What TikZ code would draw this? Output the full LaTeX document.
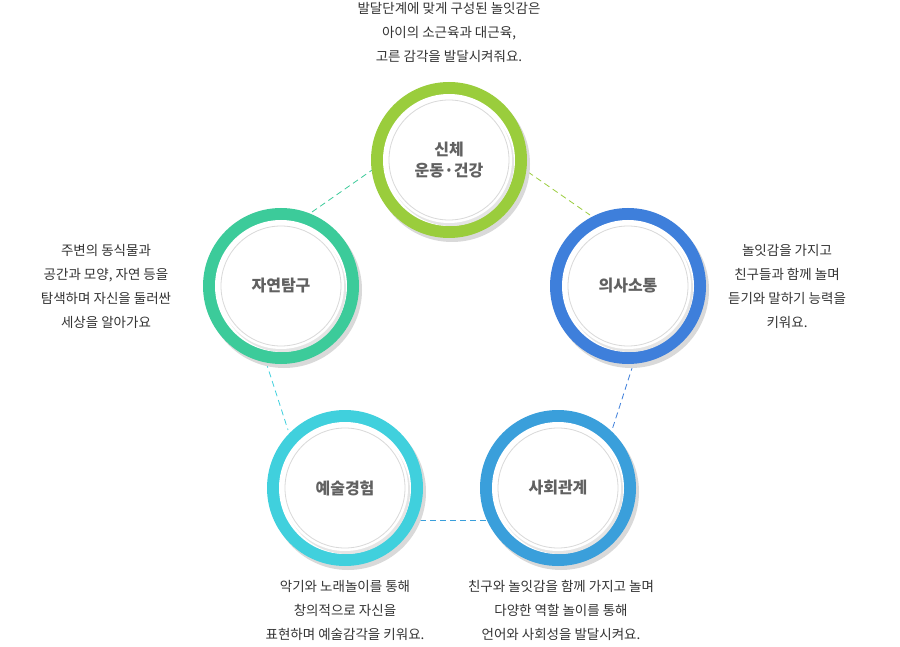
\documentclass[tikz,border=0pt]{standalone}
\usepackage{fontspec}
\setmainfont{Noto Sans CJK KR}
\begin{document}
\begin{tikzpicture}[x=1pt,y=-1pt,
  desc/.style={align=center,text=black!80,font=\fontsize{13.5}{24}\selectfont},
  lbl/.style={align=center,text=black!62,font=\fontsize{16}{21}\selectfont\bfseries},
  conn/.style={dashed,dash pattern=on 6pt off 4pt,line width=0.8pt}]
\useasboundingbox[fill=white] (0,0) rectangle (900,647);
\definecolor{cA}{HTML}{9ACD3C}
\definecolor{cB}{HTML}{3E7FDB}
\definecolor{cC}{HTML}{3CCB9A}
\definecolor{cD}{HTML}{40D0DD}
\definecolor{cE}{HTML}{3A9FDB}
\newcommand\ring[4]{%
  \fill[black!15] (#2)++(3,4) circle[radius=78];
  \fill[#3] (#2) circle[radius=78];
  \fill[white] (#2) circle[radius=66];
  \fill[black!10] (#2)++(2,3) circle[radius=63];
  \fill[white] (#2) circle[radius=63];
  \draw[black!15,line width=0.8pt] (#2) circle[radius=60];
  \node[lbl] (#1) at (#2) {#4};}
\draw[conn,cA] (528,172) -- (590,215);
\draw[conn,cC] (312,212) -- (375,168);
\draw[conn,cD] (266,362) -- (288,430);
\draw[conn,cE] (410,520) -- (487,520);
\draw[conn,cB] (633,365) -- (612,430);
\ring{a}{449,160}{cA}{신체\\운동·건강}
\ring{b}{628,286}{cB}{의사소통}
\ring{c}{281,286}{cC}{자연탐구}
\ring{d}{345,488}{cD}{예술경험}
\ring{e}{558,488}{cE}{사회관계}
\node[desc] (ta) at (449,32) {발달단계에 맞게 구성된 놀잇감은\\아이의 소근육과 대근육,\\고른 감각을 발달시켜줘요.};
\node[desc] (tb) at (787,286) {놀잇감을 가지고\\친구들과 함께 놀며\\듣기와 말하기 능력을\\키워요.};
\node[desc] (tc) at (106,286) {주변의 동식물과\\공간과 모양, 자연 등을\\탐색하며 자신을 둘러싼\\세상을 알아가요};
\node[desc] (td) at (345,610) {악기와 노래놀이를 통해\\창의적으로 자신을\\표현하며 예술감각을 키워요.};
\node[desc] (te) at (561,610) {친구와 놀잇감을 함께 가지고 놀며\\다양한 역할 놀이를 통해\\언어와 사회성을 발달시켜요.};
\end{tikzpicture}
\end{document}
